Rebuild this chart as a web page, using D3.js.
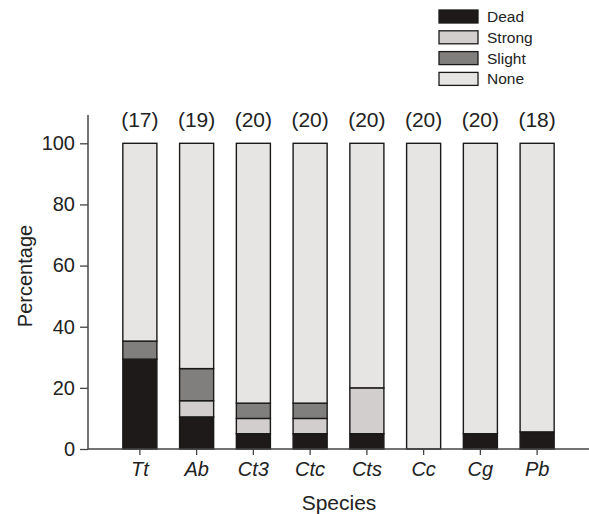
<!DOCTYPE html>
<html>
<head>
<meta charset="utf-8">
<script src="https://cdn.jsdelivr.net/npm/d3@7"></script>
<style>
  html, body { margin: 0; padding: 0; background: #fff; }
  svg { display: block; font-family: "Liberation Sans", Arial, sans-serif; }
</style>
</head>
<body>
<svg id="chart" width="589" height="514"></svg>
<script>
// Species and sample sizes
const species = ["Tt", "Ab", "Ct3", "Ctc", "Cts", "Cc", "Cg", "Pb"];
const sampleSizes = [17, 19, 20, 20, 20, 20, 20, 18];

// Percentage of individuals per response class
const dead   = [29.4, 10.5, 5, 5, 5, 0, 5, 5.6];
const strong = [0, 5.3, 5, 5, 15, 0, 0, 0];
const slight = [5.9, 10.5, 5, 5, 0, 0, 0, 0];
const none   = [64.7, 73.7, 85, 85, 80, 100, 95, 94.4];

const yTicks = [0, 20, 40, 60, 80, 100];
const classes = ["Dead", "Strong", "Slight", "None"];
const colors = { Dead: "#1e1a19", Strong: "#d1cecd", Slight: "#807f7d", None: "#e6e5e4" };

const rows = species.map((s, i) => ({
  species: s, Dead: dead[i], Strong: strong[i], Slight: slight[i], None: none[i]
}));

const svg = d3.select("#chart");
const margin = { left: 88, right: 589, top: 143.3, bottom: 449 };
const axisTop = 115;
const font = "'Liberation Sans', Arial, sans-serif";

const x = d3.scaleBand()
  .domain(species)
  .range([margin.left, margin.right])
  .paddingInner(0.4)
  .paddingOuter(0.614);

const y = d3.scaleLinear()
  .domain([0, 100])
  .range([margin.bottom, margin.top]);

const series = d3.stack().keys(classes)(rows);

// Stacked bars
const g = svg.append("g");
series.forEach(layer => {
  g.selectAll(null)
    .data(layer.filter(d => d[1] - d[0] > 0))
    .join("rect")
    .attr("x", d => x(d.data.species))
    .attr("width", x.bandwidth())
    .attr("y", d => y(d[1]))
    .attr("height", d => y(d[0]) - y(d[1]))
    .attr("fill", colors[layer.key])
    .attr("stroke", "#1a1a1a")
    .attr("stroke-width", 1.4);
});

// Y axis
const yAxis = svg.append("g")
  .attr("transform", `translate(${margin.left},0)`)
  .call(d3.axisLeft(y).tickValues(yTicks).tickSizeOuter(0).tickSize(8).tickPadding(5));
yAxis.select(".domain").remove();
yAxis.selectAll(".tick line").attr("stroke", "#444").attr("stroke-width", 1.3);
yAxis.selectAll(".tick text")
  .attr("font-size", 20).attr("fill", "#222")
  .attr("font-family", font);
yAxis.append("line")
  .attr("x1", 0).attr("x2", 0)
  .attr("y1", axisTop).attr("y2", margin.bottom)
  .attr("stroke", "#444").attr("stroke-width", 1.5);

// X axis
const xAxis = svg.append("g")
  .attr("transform", `translate(0,${margin.bottom})`)
  .call(d3.axisBottom(x).tickSizeOuter(0).tickSize(6).tickPadding(7));
xAxis.select(".domain").remove();
xAxis.append("line")
  .attr("x1", margin.left).attr("x2", margin.right)
  .attr("stroke", "#444").attr("stroke-width", 1.5);
xAxis.selectAll(".tick line").attr("stroke", "#444").attr("stroke-width", 1.3);
xAxis.selectAll(".tick text")
  .attr("font-size", 20).attr("font-style", "italic").attr("fill", "#222")
  .attr("font-family", font);

// Sample sizes above bars
svg.append("g").selectAll("text")
  .data(species)
  .join("text")
  .attr("x", d => x(d) + x.bandwidth() / 2)
  .attr("y", 127)
  .attr("text-anchor", "middle")
  .attr("font-size", 21)
  .attr("fill", "#222")
  .text((d, i) => `(${sampleSizes[i]})`);

// Axis titles
svg.append("text")
  .attr("x", 339)
  .attr("y", 510)
  .attr("text-anchor", "middle")
  .attr("font-size", 21)
  .attr("fill", "#222")
  .text("Species");

svg.append("text")
  .attr("transform", "translate(32,276) rotate(-90)")
  .attr("text-anchor", "middle")
  .attr("font-size", 20)
  .attr("fill", "#222")
  .text("Percentage");

// Legend
const legend = svg.append("g").attr("transform", "translate(439,10)");
const item = legend.selectAll("g")
  .data(classes)
  .join("g")
  .attr("transform", (d, i) => `translate(0,${i * 20.8})`);
item.append("rect")
  .attr("width", 39).attr("height", 13)
  .attr("fill", d => colors[d])
  .attr("stroke", "#1a1a1a").attr("stroke-width", 1.3);
item.append("text")
  .attr("x", 48).attr("y", 12)
  .attr("font-size", 15.5)
  .attr("fill", "#222")
  .text(d => d);
</script>
</body>
</html>
